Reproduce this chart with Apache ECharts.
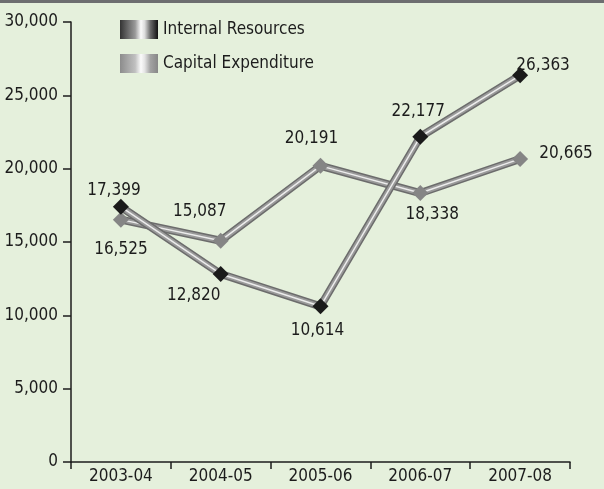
<!DOCTYPE html>
<html>
<head>
<meta charset="utf-8">
<script src="https://cdn.jsdelivr.net/npm/echarts@6/dist/echarts.min.js"></script>
<style>
  html, body { margin: 0; padding: 0; }
  .chart {
    width: 604px;
    height: 489px;
    background: #e5f0dc;
  }
</style>
</head>
<body>
<div id="chart" class="chart"></div>
<script>
  const years = ['2003-04', '2004-05', '2005-06', '2006-07', '2007-08'];
  const internalResources = [17399, 12820, 10614, 22177, 26363];
  const capitalExpenditure = [16525, 15087, 20191, 18338, 20665];
  // label offsets (px) from each point, centred on the marker
  const internalLabelOffset = [[-7, -16], [-27, 22], [-3, 24], [-2, -25], [23, -10]];
  const capitalLabelOffset = [[0, 30], [-21, -29], [-9, -27], [12, 22], [46, -5]];

  const font = '"DejaVu Sans Condensed", "Liberation Sans Narrow", sans-serif';
  const ink = '#1c1c1c';

  function legendTube(stops) {
    return new echarts.graphic.LinearGradient(0, 0, 1, 0,
      stops.map((c) => ({ offset: c[0], color: c[1] })));
  }

  function withLabels(values, offsets) {
    return values.map((v, i) => ({
      value: v,
      label: { offset: offsets[i] },
    }));
  }

  // each line is drawn as a grey tube: dark base, mid grey, light centre
  function lineSeries(name, values, offsets, markerColor, z) {
    const layer = (color, width) => ({
      name: name,
      type: 'line',
      data: values,
      z: z,
      symbol: 'none',
      silent: true,
      lineStyle: { color: color, width: width, join: 'round', cap: 'round' },
    });
    return [
      layer('#6c6c6c', 8),
      layer('#9a9a9a', 5),
      layer('#ececec', 1.5),
      {
        name: name,
        type: 'line',
        data: withLabels(values, offsets),
        z: z + 1,
        symbol: 'diamond',
        symbolSize: 16,
        itemStyle: { color: markerColor },
        lineStyle: { width: 0 },
        label: {
          show: true,
          position: 'inside',
          align: 'center',
          verticalAlign: 'middle',
          fontFamily: font,
          fontSize: 17,
          color: ink,
          formatter: (p) => p.value.toLocaleString('en-US'),
        },
        emphasis: { disabled: true },
      },
    ];
  }

  const tick = { show: true, inside: false, length: 7, lineStyle: { color: ink, width: 1.5 } };

  const myChart = echarts.init(document.getElementById('chart'));
  myChart.setOption({
    animation: false,
    graphic: [
      {
        type: 'rect',
        left: 0,
        top: 0,
        shape: { width: 604, height: 3 },
        style: { fill: '#6d6e70' },
      },
    ],
    grid: {
      left: 71,
      right: 34,
      top: 22,
      bottom: 27,
    },
    legend: {
      left: 115,
      top: 15,
      orient: 'vertical',
      itemWidth: 38,
      itemHeight: 19,
      itemGap: 15,
      icon: 'rect',
      selectedMode: false,
      textStyle: { fontFamily: font, fontSize: 17, color: ink },
      data: [
        {
          name: 'Internal Resources',
          itemStyle: {
            color: legendTube([[0, '#333333'], [0.4, '#9a9a9a'], [0.55, '#fafafa'], [0.65, '#dcdcdc'], [0.8, '#6a6a6a'], [1, '#111111']]),
          },
        },
        {
          name: 'Capital Expenditure',
          itemStyle: {
            color: legendTube([[0, '#8c8c8c'], [0.4, '#c0c0c0'], [0.55, '#fbfbfb'], [0.65, '#e4e4e4'], [0.8, '#a2a2a2'], [1, '#878787']]),
          },
        },
      ],
    },
    xAxis: {
      type: 'category',
      data: years,
      axisLine: { show: true, lineStyle: { color: ink, width: 1.5 } },
      axisTick: tick,
      axisLabel: {
        fontFamily: font,
        fontSize: 17,
        color: ink,
        margin: 6,
      },
    },
    yAxis: {
      type: 'value',
      min: 0,
      max: 30000,
      interval: 5000,
      splitLine: { show: false },
      axisLine: { show: true, lineStyle: { color: ink, width: 1.5 } },
      axisTick: Object.assign({}, tick, { length: 8 }),
      axisLabel: {
        fontFamily: font,
        fontSize: 17,
        color: ink,
        margin: 13,
        formatter: (v) => v.toLocaleString('en-US'),
      },
    },
    series: [
      ...lineSeries('Capital Expenditure', capitalExpenditure, capitalLabelOffset, '#858585', 2),
      ...lineSeries('Internal Resources', internalResources, internalLabelOffset, '#1a1a1a', 5),
    ],
  });
</script>
</body>
</html>
